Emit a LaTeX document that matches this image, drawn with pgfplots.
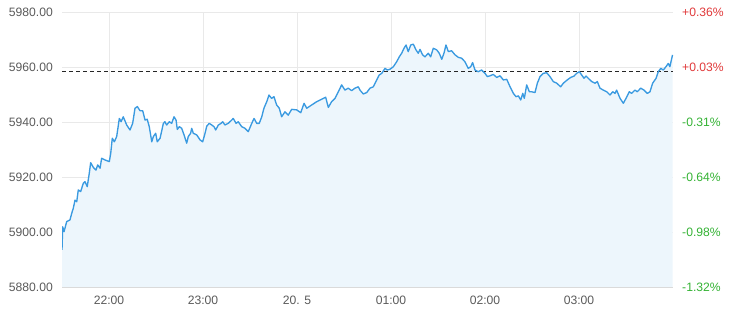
\documentclass[border=0pt]{standalone}
\usepackage{fontspec}
\setmainfont{Liberation Sans}
\usepackage{pgfplots}
\pgfplotsset{compat=1.18}
\usepackage{pgfplotstable}
\definecolor{lineblue}{HTML}{3A9AE0}
\definecolor{fillblue}{HTML}{EDF6FC}
\definecolor{gridgray}{HTML}{E9E9E9}
\definecolor{basegray}{HTML}{DADADA}
\definecolor{labgray}{HTML}{5A5A5A}
\definecolor{upred}{HTML}{E0393A}
\definecolor{downgreen}{HTML}{33B233}

% x = minutes since 21:30, v = index level
\pgfplotstableread{
m v
0 5893.5
0.45 5901.9
1.3 5900.1
3.0 5903.8
5.1 5904.4
6.2 5906.8
7.2 5908.6
8.3 5911.6
9.4 5911.0
10.4 5915.3
11.9 5914.7
13.6 5917.7
14.7 5918.3
16.1 5916.5
17.4 5921.3
18.3 5925.2
20.0 5923.5
21.7 5922.5
22.8 5924.4
24.3 5923.2
25.3 5926.8
27.4 5926.2
30.2 5925.6
31.1 5928.6
32.1 5934.1
33.4 5932.8
34.9 5934.7
36.6 5941.3
37.7 5940.1
39.1 5941.9
41.3 5938.9
43.4 5937.1
45.1 5939.5
46.6 5945.0
48.1 5945.6
49.8 5944.1
51.5 5944.1
53.0 5940.7
54.4 5941.0
55.7 5938.3
57.3 5932.8
58.3 5934.7
59.8 5935.9
60.8 5932.8
62.6 5934.1
64.7 5939.5
65.7 5940.1
66.8 5938.9
68.5 5940.1
70.0 5939.5
71.5 5941.9
72.8 5940.7
73.6 5937.3
74.9 5938.3
76.4 5937.7
77.9 5935.3
79.6 5932.3
80.6 5934.7
82.1 5935.9
82.8 5937.7
83.8 5935.9
86.0 5935.3
88.1 5933.5
89.8 5932.8
91.3 5935.9
92.4 5938.5
94.0 5939.5
95.6 5938.9
97.0 5938.3
98.1 5937.1
99.8 5938.9
101.5 5939.5
102.6 5940.1
104.0 5938.9
106.1 5939.5
108.3 5940.7
109.3 5941.3
111.1 5939.5
112.5 5940.1
114.7 5938.3
116.8 5937.7
118.9 5936.5
121.1 5939.5
122.6 5941.3
124.3 5939.5
125.9 5939.5
127.5 5941.9
128.9 5945.0
130.7 5947.4
132.1 5949.8
133.8 5948.6
135.3 5949.2
137.0 5946.2
138.7 5945.0
140.2 5941.9
142.3 5943.7
144.4 5942.5
146.6 5944.6
149.8 5944.4
152.4 5943.4
154.5 5946.8
156.2 5945.0
159.4 5946.2
162.6 5947.4
164.7 5948.0
166.8 5948.6
168.3 5949.0
170.0 5945.3
172.1 5947.4
174.3 5948.6
176.4 5951.0
178.5 5953.5
180.6 5951.6
182.7 5952.3
184.9 5951.4
187.0 5952.3
189.1 5952.8
190.2 5951.6
192.3 5950.2
194.5 5950.7
196.6 5952.3
198.7 5952.8
200.9 5955.3
202.5 5957.1
204.1 5957.7
206.2 5959.5
207.6 5958.9
209.4 5959.2
211.5 5960.1
213.6 5961.9
215.3 5963.7
216.8 5965.0
218.3 5966.8
219.6 5968.0
221.0 5965.6
222.6 5968.0
224.2 5968.3
226.0 5966.2
227.4 5965.0
228.5 5966.4
230.2 5964.4
231.7 5963.7
233.8 5965.0
235.3 5963.7
237.0 5966.8
239.2 5966.2
240.8 5965.0
242.4 5962.8
243.8 5965.0
245.1 5968.0
246.6 5965.6
248.7 5965.9
250.9 5964.4
253.0 5963.5
255.1 5963.2
257.2 5961.9
259.3 5959.5
260.9 5960.1
262.1 5961.6
263.6 5958.9
265.7 5958.3
267.9 5958.9
270.0 5957.7
271.5 5956.5
273.2 5956.8
275.3 5957.3
277.5 5956.2
279.6 5956.8
281.7 5955.3
283.9 5955.5
286.0 5952.8
288.1 5950.4
289.8 5949.2
291.3 5949.5
292.8 5948.0
294.1 5950.4
295.1 5948.6
296.6 5953.5
298.3 5951.0
299.8 5951.0
301.9 5950.7
303.4 5954.1
305.1 5956.5
307.2 5957.7
309.4 5957.9
311.5 5956.5
313.6 5954.7
315.8 5954.1
318.3 5952.8
320.0 5954.1
322.5 5955.3
324.7 5956.2
326.8 5956.7
328.5 5957.7
330.2 5958.3
331.7 5957.1
333.2 5955.9
334.5 5956.7
335.9 5955.9
338.1 5954.7
340.2 5954.1
341.7 5954.7
343.4 5952.3
345.5 5951.6
347.7 5951.0
349.8 5949.8
351.5 5951.0
353.0 5950.4
354.0 5951.6
356.2 5948.6
358.3 5946.8
360.0 5948.6
362.1 5951.0
363.6 5950.4
365.7 5951.6
367.2 5951.0
369.4 5952.3
371.5 5951.6
373.6 5950.4
375.3 5951.0
377.0 5954.1
379.2 5955.9
380.6 5958.3
382.2 5959.5
383.8 5958.9
385.5 5960.1
387.0 5961.3
388.0 5960.1
389.7 5964.4
}\pricedata

\pgfplotsset{
  commonax/.style={
    at={(62bp,30bp)}, anchor=south west,
    scale only axis, width=611bp, height=275bp,
    xmin=0, xmax=390, ymin=5880, ymax=5980,
    ytick={5880,5900,5920,5940,5960,5980},
    tick style={draw=none},
    ticklabel style={font=\fontsize{12.2}{14}\selectfont},
  }
}

\begin{document}
\begin{tikzpicture}
\useasboundingbox (0,0) rectangle (730bp,317bp);
\begin{axis}[
  commonax,
  axis x line*=bottom, axis y line*=left,
  x axis line style={draw=basegray,-},
  y axis line style={draw=none},
  xtick={30,90,150,210,270,330},
  xticklabels={22:00,23:00,20. 5,01:00,02:00,03:00},
  yticklabels={5880.00,5900.00,5920.00,5940.00,5960.00,5980.00},
  grid=major, grid style={gridgray, line width=0.6pt},
  yticklabel style={labgray, anchor=east, inner xsep=0pt, xshift=-9bp},
  xticklabel style={labgray, anchor=north, inner ysep=0pt, yshift=-8.5bp},
]
\addplot[draw=none, fill=fillblue] table[x=m, y=v] {\pricedata} \closedcycle;
\addplot[black!85, line width=0.7pt, dash pattern=on 4bp off 3bp] coordinates {(0,5958.5) (390,5958.5)};
\addplot[lineblue, line width=1.35pt, line join=round] table[x=m, y=v] {\pricedata};
\end{axis}
\begin{axis}[
  commonax,
  axis x line=none, axis y line*=right,
  y axis line style={draw=none},
  yticklabels={\textcolor{downgreen}{-1.32\%},\textcolor{downgreen}{-0.98\%},\textcolor{downgreen}{-0.64\%},\textcolor{downgreen}{-0.31\%},\textcolor{upred}{+0.03\%},\textcolor{upred}{+0.36\%}},
  yticklabel style={anchor=west, inner xsep=0pt, xshift=9bp},
]
\addplot[draw=none] coordinates {(0,5930)};
\end{axis}
\end{tikzpicture}
\end{document}
